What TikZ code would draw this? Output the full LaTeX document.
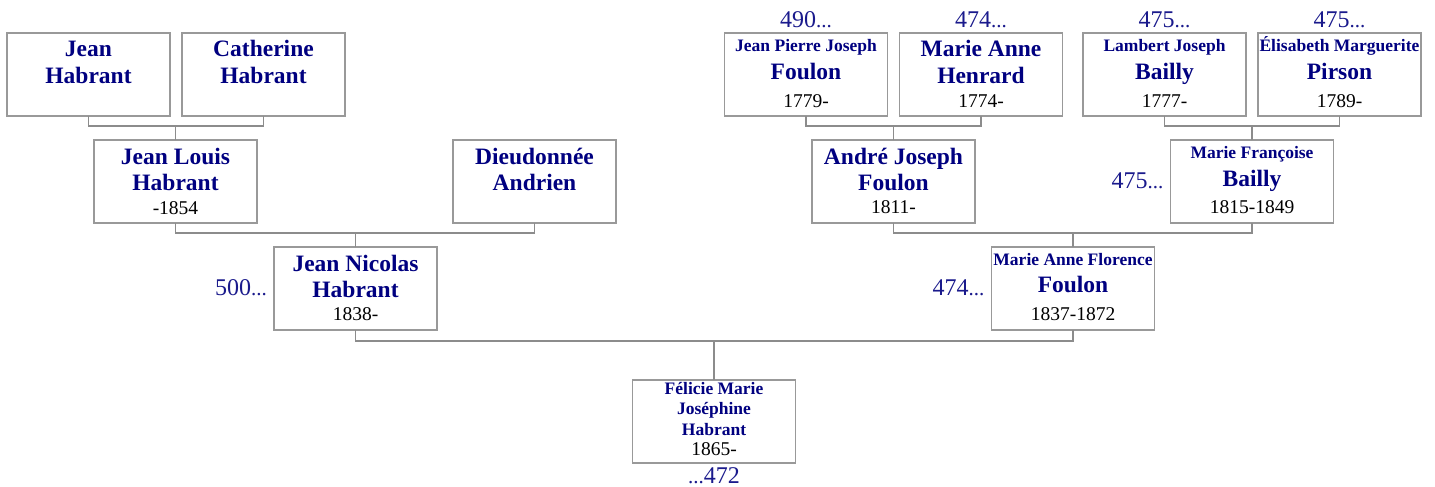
\documentclass[tikz,border=0pt]{standalone}
\usepackage{fontspec}
\setmainfont{Liberation Serif}
\usetikzlibrary{calc}
\definecolor{namecol}{HTML}{000080}
\definecolor{numcol}{HTML}{1A1A8C}
\definecolor{edgecol}{HTML}{999999}
\definecolor{linkcol}{HTML}{8C8C8C}
% box content: lines stacked by fixed baseline steps
\newcommand\card[1]{\vbox to 83pt{\hsize=163pt\parindent=0pt\centering
  \baselineskip=0pt\lineskip=0pt\lineskiplimit=0pt #1\vss}}
\newcommand\bname[2]{\rule{0pt}{#1pt}\smash{\fontsize{23.5}{26}\selectfont\bfseries\color{namecol}#2}\par}
\newcommand\sname[2]{\rule{0pt}{#1pt}\smash{\fontsize{17.5}{20}\selectfont\bfseries\color{namecol}#2}\par}
\newcommand\years[2]{\rule{0pt}{#1pt}\smash{\fontsize{19.5}{22}\selectfont #2}\par}
\newcommand\dts{{\fontsize{21}{24}\selectfont...}}
\tikzset{
  pbox/.style={rectangle,draw=edgecol,line width=1.5pt,fill=white,inner sep=0pt,outer sep=0pt},
  link/.style={draw=linkcol,line width=1.5pt},
  numlbl/.style={inner sep=0pt,font=\fontsize{24}{27}\selectfont,text=numcol}
}

\begin{document}
\begin{tikzpicture}[x=1pt,y=-1pt]
\useasboundingbox (0,0) rectangle (1435,487);
% grandparents
\node[pbox] (jean) at (88.5,74.5)   {\card{\bname{24}{Jean}\bname{26.7}{Habrant}}};
\node[pbox] (cath) at (263.5,74.5)  {\card{\bname{24}{Catherine}\bname{26.7}{Habrant}}};
\node[pbox] (jpj)  at (806,74.5)    {\card{\sname{18.5}{Jean Pierre Joseph}\bname{27.5}{Foulon}\years{28}{1779-}}};
\node[pbox] (mah)  at (981,74.5)    {\card{\bname{24}{Marie Anne}\bname{26.7}{Henrard}\years{24}{1774-}}};
\node[pbox] (ljb)  at (1164.5,74.5) {\card{\sname{18.5}{Lambert Joseph}\bname{27.5}{Bailly}\years{28}{1777-}}};
\node[pbox] (emp)  at (1339.5,74.5) {\card{\sname{18.5}{Élisabeth Marguerite}\bname{27.5}{Pirson}\years{28}{1789-}}};
% parents of parents
\node[pbox] (jl)    at (175.5,181.5) {\card{\bname{24}{Jean Louis}\bname{26.7}{Habrant}\years{24}{-1854}}};
\node[pbox] (dieu)  at (534.5,181.5) {\card{\bname{24}{Dieudonnée}\bname{26.7}{Andrien}}};
\node[pbox] (andre) at (893.5,181.5) {\card{\bname{24}{André Joseph}\bname{26.7}{Foulon}\years{23}{1811-}}};
\node[pbox] (mfb)   at (1252,181.5)  {\card{\sname{18}{Marie Françoise}\bname{28}{Bailly}\years{27}{1815-1849}}};
% parents
\node[pbox] (jn)   at (355.5,288.5) {\card{\bname{24}{Jean Nicolas}\bname{26.7}{Habrant}\years{23}{1838-}}};
\node[pbox] (maff) at (1073,288.5)  {\card{\sname{18}{Marie Anne Florence}\bname{27.7}{Foulon}\years{28}{1837-1872}}};
% child
\node[pbox] (fel) at (714,421.5) {\card{\sname{14}{Félicie Marie}\sname{20.5}{Joséphine}\sname{20.5}{Habrant}\years{20.5}{1865-}}};
% reference numbers
\node[numlbl,anchor=base,yshift=5.5pt] (n490) at (jpj.north) {490\dts};
\node[numlbl,anchor=base,yshift=5.5pt] (n474a) at (mah.north) {474\dts};
\node[numlbl,anchor=base,yshift=5.5pt] (n475a) at (ljb.north) {475\dts};
\node[numlbl,anchor=base,yshift=5.5pt] (n475b) at (emp.north) {475\dts};
\node[numlbl,anchor=base east] (n475c) at ($(mfb.north west)+(-7,48)$) {475\dts};
\node[numlbl,anchor=base east] (n500) at ($(jn.north west)+(-7,48)$) {500\dts};
\node[numlbl,anchor=base east] (n474b) at ($(maff.north west)+(-7,48)$) {474\dts};
\node[numlbl,anchor=base] (n472) at ($(fel.south)+(0,20)$) {\dts472};
% family links
\draw[link] (jean.south) -- ++(0,10) coordinate (b1) -| (cath.south);
\draw[link] (jl.north) -- (jl.north |- b1);
\draw[link] (jpj.south) -- ++(0,10) coordinate (b2) -| (mah.south);
\draw[link] (andre.north) -- (andre.north |- b2);
\draw[link] (ljb.south) -- ++(0,10) coordinate (b3) -| (emp.south);
\draw[link] (mfb.north) -- (mfb.north |- b3);
\draw[link] (jl.south) -- ++(0,10) coordinate (b4) -| (dieu.south);
\draw[link] (jn.north) -- (jn.north |- b4);
\draw[link] (andre.south) -- ++(0,10) coordinate (b5) -| (mfb.south);
\draw[link] (maff.north) -- (maff.north |- b5);
\draw[link] (jn.south) -- ++(0,11) coordinate (b6) -| (maff.south);
\draw[link] (fel.north) -- (fel.north |- b6);
\end{tikzpicture}
\end{document}
